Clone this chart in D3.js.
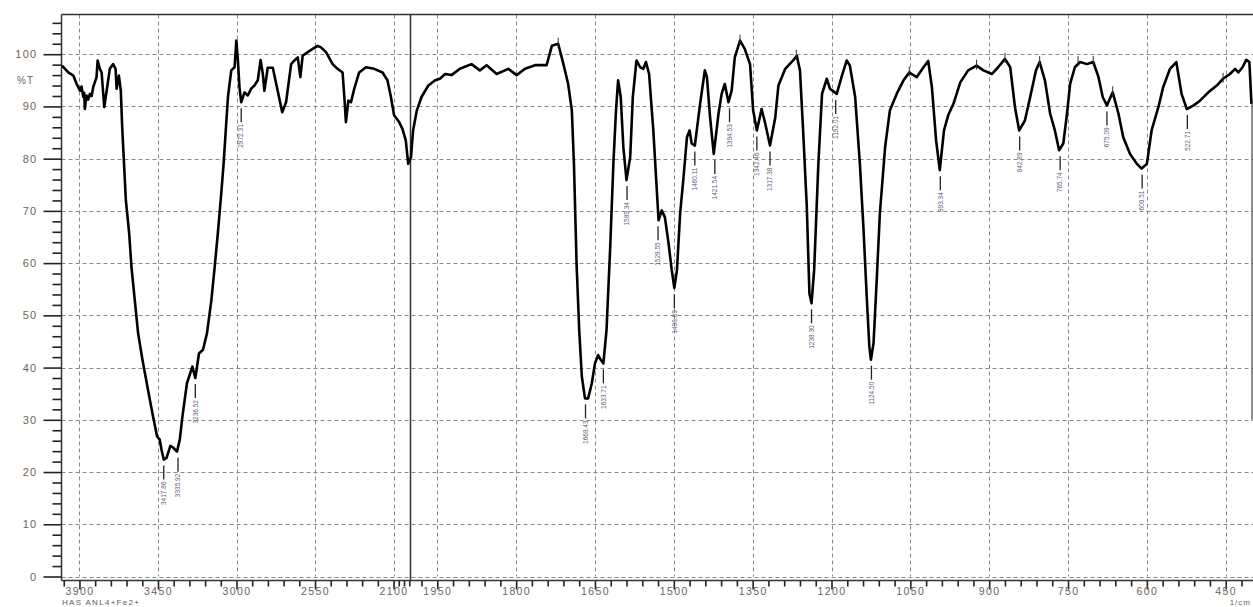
<!DOCTYPE html>
<html>
<head>
<meta charset="utf-8">
<script src="https://cdn.jsdelivr.net/npm/d3@7/dist/d3.min.js"></script>
<style>
  html, body { margin: 0; padding: 0; background: #fff; }
  svg { display: block; }
  text { font-family: "Liberation Sans", Arial, sans-serif; }
</style>
</head>
<body>
<svg id="chart" width="1253" height="607"></svg>
<script>
// ---------- data (wavenumber in 1/cm, transmittance in %T) ----------
const leftWn = [4000,3964,3935,3916,3897,3888,3878,3873,3869,3864,3859,3850,3840,3830,3821,3802,3796,3783,3773,3758,3744,3726,3707,3693,3687,3674,3663,3655,3646,3634,3615,3602,3583,3564,3539,3507,3478,3455,3440,3430,3417,3401,3379,3364,3341,3325,3310,3284,3253,3236,3215,3192,3169,3144,3125,3107,3087,3074,3049,3030,3011,3001,2992,2983,2973,2954,2935,2916,2897,2878,2862,2849,2840,2821,2792,2764,2738,2716,2687,2668,2649,2634,2621,2592,2563,2535,2516,2487,2449,2421,2392,2382,2373,2359,2344,2325,2297,2258,2211,2163,2135,2115,2097,2068,2049,2030,2016,2000];
const leftT  = [97.8,96.5,95.9,94.3,93.0,93.8,91.8,92.6,89.5,91.0,92.1,91.3,92.4,92.0,93.7,95.6,98.8,97.2,96.5,89.9,93.0,97.2,98.1,97.2,93.4,95.9,93.0,86.0,80.0,72.0,65.7,59.3,52.9,46.6,41.5,35.7,30.6,26.8,26.2,24.3,22.4,22.7,25.0,24.7,23.9,26.2,30.6,37.0,40.2,38.0,42.7,43.4,46.6,52.9,59.3,65.7,73.5,79.0,91.8,96.9,97.5,102.6,98.8,93.7,90.8,92.7,92.1,93.4,94.0,95.0,98.9,96.2,93.0,97.4,97.4,93.0,88.9,90.8,98.1,98.8,99.4,95.6,99.7,100.4,101.0,101.6,101.3,100.4,98.1,97.2,96.5,91.8,87.0,91.1,90.8,93.4,96.5,97.5,97.2,96.5,95.0,91.8,88.3,87.0,85.7,83.5,79.0,80.3];

const rightWn = [2000,1996,1989,1980,1967,1954,1945,1935,1923,1907,1885,1869,1856,1837,1815,1799,1783,1764,1742,1732,1720,1710,1701,1694,1690,1685,1680,1675,1669,1663,1656,1650,1644,1639,1634,1628,1621,1615,1610,1606,1601,1596,1590,1583,1578,1571,1564,1558,1553,1547,1539,1529,1523,1517,1510,1504,1499,1494,1488,1482,1475,1470,1466,1460,1450,1441,1437,1431,1424,1415,1409,1403,1396,1390,1384,1374,1365,1355,1349,1342,1333,1326,1317,1307,1301,1288,1273,1266,1260,1254,1247,1242,1238,1233,1225,1218,1209,1203,1190,1181,1171,1165,1155,1146,1139,1133,1128,1125,1120,1114,1108,1098,1089,1076,1063,1052,1038,1025,1016,1009,1001,994,986,978,968,955,940,924,911,895,883,870,860,851,843,832,822,811,804,794,784,775,767,759,752,746,737,727,714,702,692,684,676,665,654,645,632,619,610,600,591,578,569,556,544,534,524,511,499,483,467,455,442,432,426,418,411,405,401];
const rightT  = [80.3,85.4,89.2,91.8,94.0,95.0,95.3,96.2,96.0,97.2,98.1,96.9,97.9,96.2,97.2,96.0,97.2,97.9,97.9,101.6,102.0,98.1,94.3,89.2,79.0,59.9,47.2,38.3,34.1,34.1,37.0,40.8,42.4,41.5,40.8,47.2,63.1,79.0,89.2,95.0,91.8,82.2,75.9,80.3,91.8,98.8,97.5,97.2,98.5,96.2,85.4,68.2,70.1,68.8,63.8,58.7,55.2,58.7,69.5,75.9,84.1,85.4,82.9,82.5,90.5,96.9,95.6,87.9,80.9,88.6,92.4,94.3,90.8,93.0,99.4,102.6,101.0,98.1,89.2,85.4,89.5,86.7,82.5,87.9,94.0,97.2,98.8,99.7,96.9,85.4,70.8,54.2,52.3,58.7,79.0,92.4,95.3,93.4,92.4,95.6,98.8,97.8,91.8,79.0,66.3,53.6,44.0,41.5,44.7,56.7,69.5,82.2,89.2,92.4,95.0,96.5,95.6,97.5,98.7,93.7,83.5,77.8,85.4,88.3,90.5,94.6,96.9,97.8,96.9,96.2,97.5,99.1,97.5,89.9,85.4,87.3,91.8,96.9,98.5,95.0,88.6,85.4,81.6,82.9,88.6,94.3,97.5,98.5,98.1,98.5,95.6,91.8,90.2,92.7,88.6,84.1,80.9,79.0,78.1,79.0,85.4,89.9,93.7,97.2,98.5,92.4,89.5,90.2,91.1,92.7,94.0,95.3,96.2,97.2,96.5,97.5,98.9,98.5,90.5];

// final drop of the trace at the low-wavenumber end
const endWn = 400;
const endDrop = [90.5, 30];

// peak picks (minima)
const peakWn     = [3417,3335,3236,2973,1668,1634,1589,1530,1499,1460,1422,1394,1342,1317,1238,1192,1124,993,842,765,676,609,523];
const peakT      = [22.4,23.9,38.0,90.8,34.1,40.8,75.9,68.2,55.2,82.5,80.9,90.8,85.4,82.5,52.3,92.4,41.5,77.8,85.4,81.6,90.2,78.1,89.5];
const peakLabels = ["3417.86","3335.92","3236.52","2972.31","1668.43","1633.71","1589.34","1529.55","1498.69","1460.11","1421.54","1394.53","1342.46","1317.38","1238.30","1192.01","1124.50","993.34","842.89","765.74","675.09","609.51","522.71"];

// small marks at local maxima
const maxWn = [1720,1374,1267,1052,924,870,804,731,702,665,455];
const maxT  = [102.0,102.6,99.7,96.5,97.8,99.1,98.5,98.5,98.5,92.7,95.3];

// axis ticks
const yMajor = [0,10,20,30,40,50,60,70,80,90,100];
const yMinor = d3.range(0, 107, 2).filter(v => v % 10 !== 0);
const xMajorLeft  = [3900,3450,3000,2550,2100];
const xMinorLeft  = [3990,3810,3720,3630,3540,3360,3270,3180,3090,2910,2820,2730,2640,2460,2370,2280,2190,2070,2040,2010];
const xMajorRight = [1950,1800,1650,1500,1350,1200,1050,900,750,600,450];
const xMinorRight = d3.range(1980, 410, -30).filter(v => !xMajorRight.includes(v));

// ---------- scales ----------
const svg = d3.select("#chart");
const y  = d3.scaleLinear().domain([0, 107.6]).range([576.5, 14.5]);
const xL = d3.scaleLinear().domain([4000, 2000]).range([62, 411]);
const xR = d3.scaleLinear().domain([2000, 400]).range([411, 1252]);
const X = w => (w >= 2000 ? xL(w) : xR(w));

const labelColor = "#6f6357";
const gridColor = "#8a8a8a";
const axisY0 = 580.5;
const plotLeft = xL.range()[0] - 0.5;
const plotRight = 1253;
const plotTop = y.range()[1];

// ---------- grid ----------
const grid = svg.append("g").attr("stroke", gridColor).attr("stroke-width", 1).attr("stroke-dasharray", "4,3");
grid.selectAll("line.h").data(yMajor).join("line")
  .attr("x1", plotLeft).attr("x2", plotRight)
  .attr("y1", d => Math.round(y(d)) + 0.5).attr("y2", d => Math.round(y(d)) + 0.5);
grid.selectAll("line.vl").data(xMajorLeft.concat(xMajorRight)).join("line")
  .attr("x1", d => Math.round(X(d)) + 0.5).attr("x2", d => Math.round(X(d)) + 0.5)
  .attr("y1", plotTop).attr("y2", y(0));

// ---------- y axis ----------
const yAxisG = svg.append("g").attr("transform", `translate(${plotLeft},0)`);
yAxisG.call(d3.axisLeft(y).tickValues(yMajor).tickSize(18).tickPadding(6).tickFormat(d3.format("d")));
yAxisG.append("g").call(d3.axisLeft(y).tickValues(yMinor).tickSize(9).tickFormat(""));
yAxisG.selectAll(".domain").remove();
yAxisG.selectAll("line").attr("stroke", "#222").attr("stroke-width", 1.6);
yAxisG.selectAll("text").attr("fill", labelColor).attr("font-size", 11).attr("letter-spacing", 1.3);
svg.append("text").attr("x", 34).attr("y", y(95) + 4).attr("text-anchor", "end")
  .attr("fill", labelColor).attr("font-size", 10).attr("letter-spacing", 1).text("%T");

// ---------- x axes ----------
function xAxis(scale, major, minor) {
  const g = svg.append("g").attr("transform", `translate(0,${axisY0})`);
  g.call(d3.axisBottom(scale).tickValues(major).tickSize(9).tickPadding(-2).tickFormat(d3.format("d")));
  g.append("g").call(d3.axisBottom(scale).tickValues(minor).tickSize(6).tickFormat(""));
  g.selectAll(".domain").remove();
  g.selectAll("line").attr("stroke", "#222").attr("stroke-width", 1.6);
  g.selectAll("text").attr("fill", labelColor).attr("font-size", 10.5).attr("letter-spacing", 1.4);
}
xAxis(xL, xMajorLeft, xMinorLeft);
xAxis(xR, xMajorRight, xMinorRight);

// frame lines
const frame = svg.append("g").attr("stroke", "#333").attr("stroke-width", 1.5);
frame.append("line").attr("x1", plotLeft).attr("x2", plotLeft).attr("y1", plotTop).attr("y2", axisY0);
frame.append("line").attr("x1", plotLeft).attr("x2", plotRight).attr("y1", axisY0).attr("y2", axisY0);
frame.append("line").attr("x1", plotLeft).attr("x2", plotRight).attr("y1", plotTop).attr("y2", plotTop);
frame.append("line").attr("x1", X(2000) - 0.5).attr("x2", X(2000) - 0.5).attr("y1", plotTop).attr("y2", axisY0);

// ---------- spectrum ----------
const line = d3.line().x(d => d[0]).y(d => y(d[1]));
const leftPts = leftWn.map((w, i) => [xL(w), leftT[i]]);
const rightPts = rightWn.map((w, i) => [xR(w), rightT[i]]);
svg.append("path").attr("d", line(leftPts.concat(rightPts)))
  .attr("fill", "none").attr("stroke", "#000").attr("stroke-width", 2.6)
  .attr("stroke-linejoin", "round");
svg.append("line")
  .attr("x1", X(endWn)).attr("x2", X(endWn))
  .attr("y1", y(endDrop[0])).attr("y2", y(endDrop[1]))
  .attr("stroke", "#444").attr("stroke-width", 1.2);

// max marks
svg.append("g").selectAll("line").data(maxWn).join("line")
  .attr("x1", d => X(d)).attr("x2", d => X(d))
  .attr("y1", (d, i) => y(maxT[i]) - 6).attr("y2", (d, i) => y(maxT[i]) + 4)
  .attr("stroke", "#333").attr("stroke-width", 1);

// ---------- peak labels ----------
const pk = svg.append("g");
peakWn.forEach((w, i) => {
  const px = X(w), py = y(peakT[i]);
  pk.append("line").attr("x1", px).attr("x2", px).attr("y1", py + 6).attr("y2", py + 20)
    .attr("stroke", "#222").attr("stroke-width", 1.3);
  pk.append("text")
    .attr("transform", `translate(${px + 2.2},${py + 22}) rotate(-90)`)
    .attr("text-anchor", "end")
    .attr("font-size", 6.5).attr("fill", "#5d5f78")
    .text(peakLabels[i]);
});

// ---------- footer texts ----------
svg.append("text").attr("x", 62).attr("y", 605).attr("fill", "#5a5a6a")
  .attr("font-size", 8).attr("letter-spacing", 1.3).text("HAS ANL4+Fe2+");
svg.append("text").attr("x", 1251).attr("y", 605).attr("text-anchor", "end").attr("fill", labelColor)
  .attr("font-size", 8).attr("letter-spacing", 1).text("1/cm");
</script>
</body>
</html>
